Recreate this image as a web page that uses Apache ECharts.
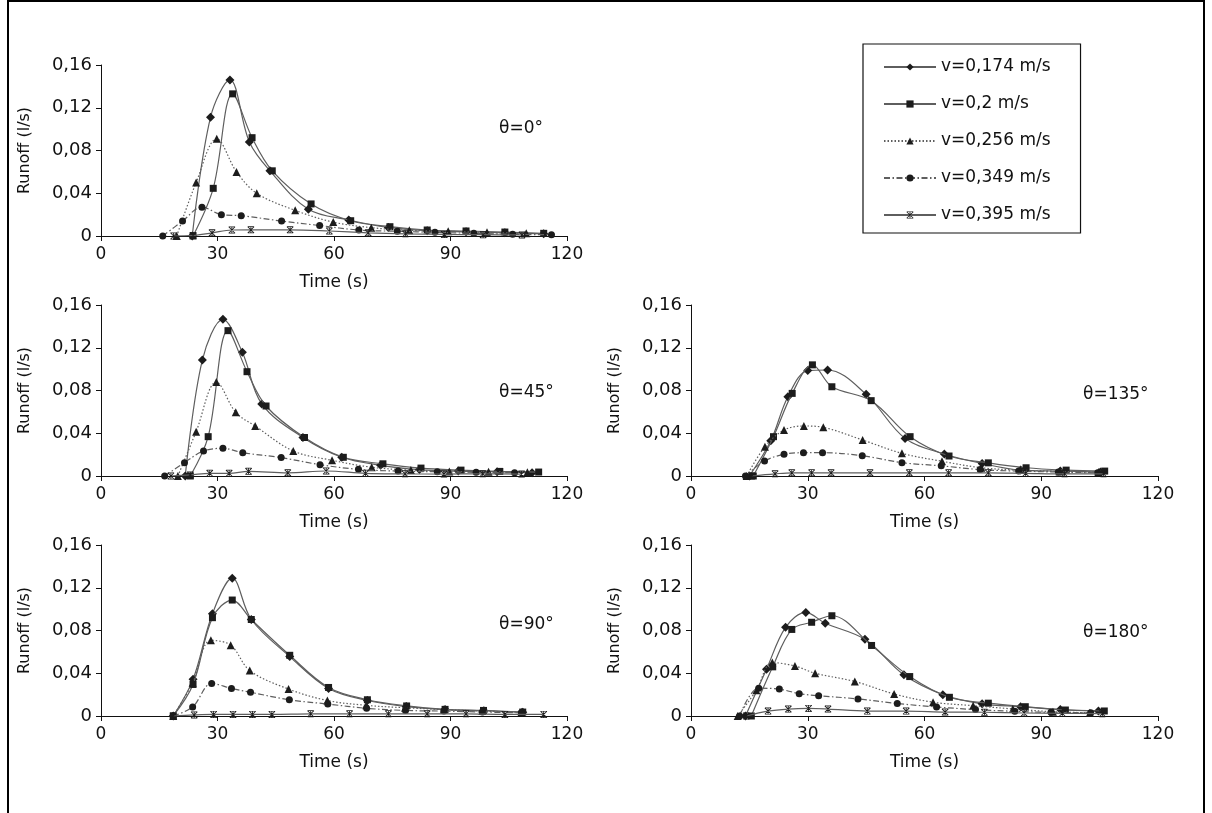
<!DOCTYPE html>
<html>
<head>
<meta charset="utf-8">
<script src="https://cdn.jsdelivr.net/npm/echarts@6/dist/echarts.min.js"></script>
<style>
html,body{margin:0;padding:0;background:#fff;}
#c{width:1212px;height:813px;}
</style>
</head>
<body>
<div id="c"></div>
<script>
// ---------- DATA ----------
const seriesNames = ['v=0,174 m/s', 'v=0,2 m/s', 'v=0,256 m/s', 'v=0,349 m/s', 'v=0,395 m/s'];
const panelLabels = ['θ=0°', 'θ=45°', 'θ=135°', 'θ=90°', 'θ=180°'];
const xTicks = [0, 30, 60, 90, 120];
const yTicks = [0, 0.04, 0.08, 0.12, 0.16];

// θ = 0°
const a0_v174 = [[23.5,0],[28.2,0.111],[33.2,0.146],[38.2,0.088],[43.5,0.061],[53.4,0.025],[63.8,0.015],[74,0.008],[84,0.005],[94,0.004],[104,0.003],[114,0.002]];
const a0_v200 = [[23.7,0],[28.9,0.0446],[33.9,0.133],[38.9,0.092],[44.1,0.061],[54.1,0.030],[64.3,0.0143],[74.4,0.0087],[84,0.0056],[94,0.0047],[104,0.0037],[114,0.0025]];
const a0_v256 = [[19.5,0],[24.5,0.050],[29.8,0.091],[34.9,0.060],[40.1,0.040],[50,0.024],[59.8,0.013],[69.6,0.0078],[79.4,0.0053],[89.4,0.0044],[99.4,0.0034],[109.5,0.0025]];
const a0_v349 = [[15.9,0],[21,0.014],[26,0.027],[31,0.020],[36.1,0.019],[46.5,0.014],[56.3,0.0098],[66.4,0.0056],[76.3,0.0044],[86,0.0034],[96,0.0025],[106,0.0016],[116,0.0012]];
const a0_v395 = [[18.7,0],[23.7,0.0005],[28.6,0.003],[33.7,0.0056],[38.6,0.0058],[48.7,0.0058],[58.8,0.0047],[68.8,0.003],[78.4,0.002],[88.4,0.0015],[98.4,0.0012],[108.4,0.001]];

// θ = 45°
const a45_v174 = [[21.7,0],[26.1,0.1085],[31.4,0.1466],[36.4,0.1157],[41.4,0.0674],[52,0.036],[62,0.0175],[72,0.010],[82,0.006],[92,0.0046],[102,0.004],[111,0.003]];
const a45_v200 = [[23,0],[27.6,0.0368],[32.7,0.136],[37.6,0.0976],[42.5,0.0655],[52.4,0.036],[62.4,0.0175],[72.6,0.0114],[82.4,0.0074],[92.7,0.0055],[102.7,0.0043],[112.7,0.0037]];
const a45_v256 = [[19.8,0],[24.5,0.0415],[29.7,0.088],[34.7,0.0596],[39.7,0.0468],[49.5,0.0234],[59.5,0.0147],[69.7,0.0082],[79.8,0.0055],[89.7,0.0043],[99.8,0.004],[109.8,0.0034]];
const a45_v349 = [[16.4,0],[21.5,0.0125],[26.4,0.0234],[31.4,0.0259],[36.5,0.0218],[46.4,0.0172],[56.4,0.0106],[66.3,0.0062],[76.5,0.0046],[86.6,0.004],[96.6,0.0034],[106.5,0.003]];
const a45_v395 = [[18,0],[23,0.001],[28,0.0025],[33,0.0025],[38,0.0044],[48.1,0.003],[58,0.0047],[68.1,0.0025],[78.3,0.002],[88.3,0.0018],[98.3,0.002],[108.3,0.0018]];

// θ = 135°
const a135_v174 = [[15,0],[20.5,0.033],[24.9,0.0742],[30,0.0986],[35.1,0.0992],[45,0.0764],[55,0.0352],[65.1,0.0206],[74.8,0.0117],[84.7,0.0055],[94.9,0.0046],[105.2,0.0037]];
const a135_v200 = [[16,0],[21.2,0.0368],[26,0.0773],[31.2,0.104],[36.2,0.0835],[46.3,0.0705],[56.3,0.0368],[66.3,0.0187],[76.4,0.0123],[86.1,0.0077],[96.4,0.0055],[106.3,0.0046]];
const a135_v256 = [[14.3,0],[19,0.0274],[23.9,0.043],[29,0.0468],[34,0.0455],[44.1,0.0337],[54.2,0.0212],[64.5,0.0138],[74.6,0.0077],[84.7,0.0055],[94.7,0.0043],[104.7,0.0037]];
const a135_v349 = [[14,0],[18.9,0.014],[23.9,0.0203],[28.9,0.0218],[33.8,0.0218],[44,0.019],[54.2,0.0125],[64.3,0.0095],[74.3,0.006],[84.2,0.0046],[94.4,0.0037],[104.5,0.003]];
const a135_v395 = [[15.6,0],[21.6,0.002],[25.9,0.003],[31,0.003],[36,0.003],[46,0.003],[56.1,0.003],[66.2,0.003],[76.4,0.003],[86,0.0025],[96,0.002],[106,0.002]];

// θ = 90°
const a90_v174 = [[18.6,0],[23.7,0.0343],[28.7,0.0957],[33.8,0.129],[38.7,0.0903],[48.6,0.0556],[58.6,0.0258],[68.6,0.0145],[78.6,0.0088],[88.6,0.006],[98.6,0.005],[108.6,0.0035]];
const a90_v200 = [[18.6,0],[23.7,0.0295],[28.7,0.092],[33.8,0.1085],[38.7,0.0903],[48.6,0.0568],[58.6,0.0267],[68.6,0.0152],[78.7,0.0094],[88.6,0.0062],[98.5,0.0052],[108.6,0.0037]];
const a90_v256 = [[18.6,0],[23.6,0.031],[28.3,0.0708],[33.4,0.0663],[38.3,0.0426],[48.3,0.0252],[58.3,0.0145],[68.3,0.010],[78.3,0.0077],[88.3,0.006],[98.2,0.0046],[108.3,0.0037]];
const a90_v349 = [[18.6,0],[23.6,0.0085],[28.5,0.0304],[33.6,0.0258],[38.5,0.0222],[48.5,0.0152],[58.4,0.0112],[68.4,0.0072],[78.4,0.0052],[88.3,0.0046],[98.2,0.0037],[108.2,0.003]];
const a90_v395 = [[18.6,0],[24,0.001],[29,0.0015],[34,0.0015],[39,0.0015],[44,0.0015],[54,0.002],[64,0.002],[74,0.002],[84,0.002],[94,0.002],[104,0.0015],[114,0.0015]];

// θ = 180°
const a180_v174 = [[14,0],[19.4,0.0437],[24.3,0.083],[29.5,0.0969],[34.5,0.0868],[44.7,0.0717],[54.7,0.0385],[64.7,0.020],[74.8,0.0114],[84.7,0.0087],[94.9,0.006],[104.7,0.0047]];
const a180_v200 = [[15.5,0],[21,0.046],[25.9,0.081],[31,0.0877],[36.2,0.0938],[46.4,0.066],[56.2,0.0369],[66.4,0.0175],[76.4,0.012],[85.9,0.0087],[96.2,0.0056],[106.2,0.0047]];
const a180_v256 = [[12,0],[16.8,0.024],[20.9,0.050],[26.7,0.0468],[31.9,0.040],[42.1,0.0323],[52.2,0.0206],[62.2,0.0129],[72.5,0.0097],[82.7,0.0066],[93,0.004],[102.5,0.0031]];
const a180_v349 = [[12.5,0],[17.4,0.026],[22.7,0.0252],[27.8,0.0209],[32.8,0.019],[42.9,0.016],[53,0.0117],[63.1,0.0085],[73.1,0.006],[83.2,0.0044],[92.5,0.0034],[102.7,0.0031]];
const a180_v395 = [[14.2,0],[19.8,0.0046],[25,0.0065],[30.2,0.0071],[35.2,0.0065],[45.3,0.0046],[55.3,0.0046],[65.3,0.0037],[75.4,0.0035],[85.6,0.0028],[95.4,0.0025],[105.7,0.0022]];

const panelData = [
  [a0_v174, a0_v200, a0_v256, a0_v349, a0_v395],
  [a45_v174, a45_v200, a45_v256, a45_v349, a45_v395],
  [a135_v174, a135_v200, a135_v256, a135_v349, a135_v395],
  [a90_v174, a90_v200, a90_v256, a90_v349, a90_v395],
  [a180_v174, a180_v200, a180_v256, a180_v349, a180_v395]
];

// ---------- STYLE / LAYOUT ----------
const FONT = 'DejaVu Sans';
const grids = [
  {left: 101, top: 65, width: 466, height: 171},
  {left: 101, top: 305, width: 466, height: 171},
  {left: 691, top: 305, width: 467, height: 171},
  {left: 101, top: 545, width: 466, height: 171},
  {left: 691, top: 545, width: 467, height: 171}
];
// left / top of the θ labels
const labelPos = [[499, 120], [499, 384], [1083, 386], [499, 616], [1083, 624]];

const starPath = 'path://M4.4,0L5.6,0L5.6,10L4.4,10Z M0,0.85L0.85,0L10,9.15L9.15,10Z M9.15,0L10,0.85L0.85,10L0,9.15Z M1,0L9,0L9,1L1,1Z M1,9L9,9L9,10L1,10Z';
const seriesStyle = [
  {symbol: 'diamond', symbolSize: 9, type: 'solid'},
  {symbol: 'rect', symbolSize: 7, type: 'solid'},
  {symbol: 'triangle', symbolSize: 8, type: [1.5, 2]},
  {symbol: 'circle', symbolSize: 7, type: [6, 2.5, 1.5, 2.5]},
  {symbol: starPath, symbolSize: 7, type: 'solid'}
];
const lineColor = '#5e5e5e';
const markColor = '#1c1c1c';

const xAxes = [], yAxes = [], series = [], graphics = [];
grids.forEach((g, i) => {
  xAxes.push({
    type: 'value', gridIndex: i,
    min: xTicks[0], max: xTicks[xTicks.length - 1], interval: xTicks[1] - xTicks[0],
    name: 'Time (s)', nameLocation: 'middle', nameGap: 38,
    nameTextStyle: {fontFamily: FONT, fontSize: 17, color: '#111'},
    axisLine: {lineStyle: {color: '#111', width: 1}},
    axisTick: {show: true, length: 5, lineStyle: {color: '#111'}},
    axisLabel: {fontFamily: FONT, fontSize: 17, color: '#111', margin: 10},
    splitLine: {show: false}
  });
  yAxes.push({
    type: 'value', gridIndex: i,
    min: yTicks[0], max: yTicks[yTicks.length - 1], interval: yTicks[1] - yTicks[0],
    name: 'Runoff (l/s)', nameLocation: 'middle', nameGap: 68, nameRotate: 90,
    nameTextStyle: {fontFamily: FONT, fontSize: 16, color: '#111'},
    axisLine: {show: true, lineStyle: {color: '#111', width: 1}},
    axisTick: {show: true, length: 5, lineStyle: {color: '#111'}},
    axisLabel: {fontFamily: FONT, fontSize: 18, color: '#111', margin: 9,
      formatter: v => v === 0 ? '0' : v.toFixed(2).replace('.', ',')},
    splitLine: {show: false}
  });
  panelData[i].forEach((d, k) => {
    const st = seriesStyle[k];
    series.push({
      name: seriesNames[k], type: 'line', xAxisIndex: i, yAxisIndex: i,
      data: d, smooth: 0.35, symbol: st.symbol, symbolSize: st.symbolSize,
      showAllSymbol: true,
      lineStyle: {color: lineColor, width: 1.2, type: st.type},
      itemStyle: {color: markColor, borderWidth: 0},
      z: 3 + k, animation: false
    });
  });
  graphics.push({
    type: 'text', left: labelPos[i][0], top: labelPos[i][1],
    style: {text: panelLabels[i], fontFamily: FONT, fontSize: 17, fill: '#111'}
  });
});
// outer frame
graphics.push({type: 'rect', shape: {x: 8, y: 1, width: 1196, height: 840},
  style: {fill: 'none', stroke: '#000', lineWidth: 2}, silent: true});

const chart = echarts.init(document.getElementById('c'), null, {renderer: 'canvas'});
chart.setOption({
  animation: false,
  backgroundColor: '#fff',
  grid: grids,
  xAxis: xAxes,
  yAxis: yAxes,
  series: series,
  legend: {
    data: seriesNames, orient: 'vertical', left: 863, top: 44,
    padding: [13, 30, 8, 20], itemGap: 17, itemWidth: 52, itemHeight: 9,
    borderColor: '#111', borderWidth: 1.2, backgroundColor: '#fff',
    textStyle: {fontFamily: FONT, fontSize: 17, color: '#111', lineHeight: 20},
    selectedMode: false
  },
  graphic: graphics
});
</script>
</body>
</html>
